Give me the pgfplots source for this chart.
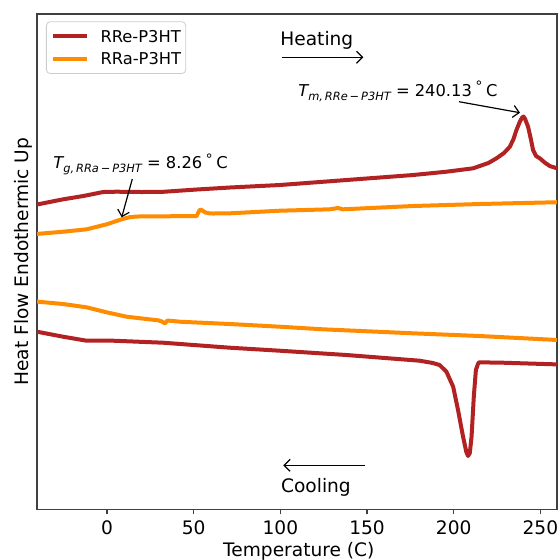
\documentclass[border=0pt]{standalone}
\usepackage{pgfplots}
\pgfplotsset{compat=1.18}
\usepackage{fontspec}
\setmainfont{DejaVu Sans}
\usetikzlibrary{arrows.meta}
\definecolor{rre}{HTML}{B22222}
\definecolor{rra}{HTML}{FF8C00}
\definecolor{spine}{HTML}{404040}
\newcommand{\tickfont}{\fontsize{9.3}{11}\selectfont}
\newcommand{\annfont}{\fontsize{8.15}{10}\selectfont}
\newcommand{\subfont}{\fontsize{5.7}{7}\selectfont}
\newcommand{\degc}{\,\raisebox{0.5em}{\fontsize{7}{8}\selectfont∘}\,C}

\pgfplotstableread{
T y
-41 354.3
-25.3 359.7
-13.7 363
-2.2 367
5.5 367.3
20 367
32.4 367.2
51.7 369.5
70.9 371.5
99.7 374
138.2 379
176.6 384
195.8 387.3
211.2 390.7
220 396
224.7 400.7
229 406
232.4 412.3
234.5 420
236.2 429
238.2 437.5
239.5 441.5
240.3 442.5
241.2 440
242.9 432.3
244.5 420
245.8 409
247.5 403
249.7 400.7
252.5 396.5
255.4 393
260 390.5
}\rreheat

\pgfplotstableread{
T y
-41 325
-25.3 327.3
-11.8 329.7
-0.2 334.7
8.4 339.7
13 341.8
17.1 342.5
32.4 342.7
51.7 343
52.6 346.3
53.6 349.3
54.6 349
56.5 346.7
59 345.6
61.2 345.5
70.9 345.7
99.7 348.3
128.5 349.7
133.3 351
136 349.7
176.6 353
215.1 355
260 356.8
}\rraheat

\pgfplotstableread{
T y
-41 257.5
-25.3 255
-11.8 251.7
-0.2 246.7
11.3 242.3
22.8 240
29.5 238.7
31.8 237.4
33.4 235.6
34.8 238.4
37 238.2
42 237.3
70.9 235
99.7 232.3
124.7 229.7
176.6 225.7
215.1 223
260 219
}\rracool

\pgfplotstableread{
T y
-41 227.5
-25.3 222.3
-11.8 218.3
3.6 218.3
32.4 216.3
70.9 211.3
99.7 208.3
138.2 204
180.4 198.3
188 196
191.9 194
195.8 187.3
199.7 172.3
202.5 149
205.4 122.3
207.3 107
208.3 103
209.3 106
210.3 122.3
211.6 162.3
212.8 189
214 195
214.6 196.7
228.5 196.3
260 194.6
}\rrecool

\begin{document}
\begin{tikzpicture}
\begin{axis}[
  at={(18.5pt,-254.65pt)}, anchor=south west,
  scale only axis, width=260pt, height=247.65pt,
  xmin=-40.4, xmax=259.6, ymin=49.7, ymax=545,
  axis line style={spine, line width=0.65pt},
  xtick={0,50,...,250}, ytick=\empty,
  xtick pos=bottom, tick align=outside,
  major tick length=2.5pt,
  tick style={spine, line width=0.65pt},
  /pgf/number format/assume math mode=true,
  ticklabel style={font=\tickfont},
  xticklabel style={inner sep=0pt, anchor=north, yshift=-3pt},
  xlabel={Temperature (C)},
  xlabel style={at={(axis description cs:0.5035,0)}, anchor=north, inner sep=0pt, yshift=-16.3pt, font=\tickfont},
  ylabel={Heat Flow Endothermic Up},
  ylabel style={at={(axis description cs:-0.0167,0.5)}, anchor=base, inner sep=0pt, font=\tickfont},
  legend style={at={(axis description cs:0.0173,0.9853)}, anchor=north west,
    draw=black!20, rounded corners=2pt, fill=white,
    inner xsep=2.35pt, inner ysep=4.35pt, row sep=5.35pt, column sep=5.7pt,
    font=\annfont, nodes={inner sep=0pt, text height=5.95pt, text depth=0pt}},
  legend cell align=left,
  legend image code/.code={\draw[#1] (0pt,0pt) -- (17pt,0pt);},
  every axis plot/.append style={line width=2pt, line join=round},
]
\addplot[rre] table[x=T,y=y] {\rreheat};
\addlegendentry{RRe-P3HT}
\addplot[rra] table[x=T,y=y] {\rraheat};
\addlegendentry{RRa-P3HT}
\addplot[rra, forget plot] table[x=T,y=y] {\rracool};
\addplot[rre, forget plot] table[x=T,y=y] {\rrecool};
\end{axis}
\begin{scope}[x=0.5pt,y=-0.5pt]
\tikzset{ann/.style={black, line width=0.6pt, -{Straight Barb[length=3pt,width=6pt]}}}
\node[anchor=base west, inner sep=0pt, font=\tickfont] at (280,45.7) {Heating};
\draw[ann] (281.7,57.3) -- (363.3,57.3);
\node[anchor=base west, inner sep=0pt, font=\tickfont] at (280.7,492.7) {Cooling};
\draw[ann] (365,465.3) -- (283.3,465.3);
\node[anchor=base west, inner sep=0pt, font=\annfont] at (298,96) {{\itshape T}\raisebox{-0.28em}{\subfont\itshape m,\,RRe\,−\,P3HT} = 240.13\degc};
\draw[ann] (459,101.7) -- (520,112.7);
\node[anchor=base west, inner sep=0pt, font=\annfont] at (53,168.3) {{\itshape T}\raisebox{-0.28em}{\subfont\itshape g,\,RRa\,−\,P3HT} = 8.26\degc};
\draw[ann] (132.3,179) -- (121.7,217.3);
\pgfresetboundingbox
\path[use as bounding box] (0,0) rectangle (560,559);
\end{scope}
\end{tikzpicture}
\end{document}
